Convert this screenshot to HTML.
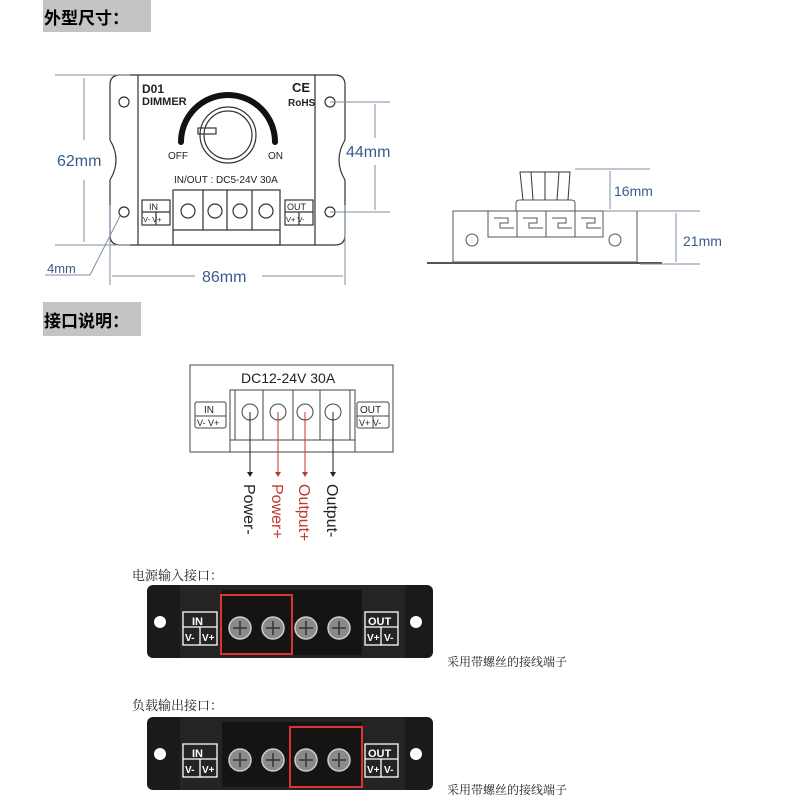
<!DOCTYPE html>
<html><head><meta charset="utf-8"><style>
body{margin:0;background:#fff}
svg{display:block}
</style></head><body>
<svg width="800" height="800" viewBox="0 0 800 800" xmlns="http://www.w3.org/2000/svg" font-family="Liberation Sans, sans-serif">
<rect width="800" height="800" fill="#fff"/>
<!-- headers -->
<rect x="43" y="0" width="108" height="32" fill="#c4c4c4"/>
<text x="44" y="24" font-size="17" font-weight="bold" font-family="Noto Sans CJK SC, sans-serif">外型尺寸：</text>
<rect x="43" y="302" width="98" height="34" fill="#c4c4c4"/>
<text x="44" y="327" font-size="17" font-weight="bold" font-family="Noto Sans CJK SC, sans-serif">接口说明：</text>

<!-- front device -->
<g stroke="#333" fill="none" stroke-width="1.2">
<path d="M120,75 H335 Q345,75 345,85 V140 Q333,160 345,180 V235 Q345,245 335,245 H120 Q110,245 110,235 V180 Q122,160 110,140 V85 Q110,75 120,75 Z"/>
<line x1="138" y1="75" x2="138" y2="245"/>
<line x1="315" y1="75" x2="315" y2="245"/>
<circle cx="124" cy="102" r="5"/><circle cx="124" cy="212" r="5"/>
<circle cx="330" cy="102" r="5"/><circle cx="330" cy="212" r="5"/>
<rect x="173" y="190" width="107" height="55"/>
<line x1="173" y1="230" x2="280" y2="230"/>
<line x1="203" y1="190" x2="203" y2="230"/><line x1="227" y1="190" x2="227" y2="230"/><line x1="252" y1="190" x2="252" y2="230"/>
<circle cx="188" cy="211" r="7"/><circle cx="215" cy="211" r="7"/><circle cx="240" cy="211" r="7"/><circle cx="266" cy="211" r="7"/>
<rect x="142" y="200" width="28" height="25"/><line x1="142" y1="212" x2="170" y2="212"/><line x1="156" y1="212" x2="156" y2="225"/>
<rect x="285" y="200" width="28" height="25"/><line x1="285" y1="212" x2="313" y2="212"/><line x1="299" y1="212" x2="299" y2="225"/>
<circle cx="228" cy="135" r="28"/><circle cx="228" cy="135" r="24"/>
<rect x="198" y="128" width="18" height="6"/>
</g>
<path d="M181,142 A47,47 0 1 1 275,142" stroke="#111" stroke-width="6" fill="none" stroke-linecap="round"/>
<g font-weight="bold" fill="#222">
<text x="142" y="93" font-size="12">D01</text>
<text x="142" y="105" font-size="11">DIMMER</text>
<text x="292" y="92" font-size="13">CE</text>
<text x="288" y="106" font-size="10">RoHS</text>
</g>
<g fill="#222" font-size="10">
<text x="168" y="159">OFF</text><text x="268" y="159">ON</text>
<text x="174" y="183">IN/OUT : DC5-24V 30A</text>
<text x="149" y="210" font-size="9">IN</text><text x="143" y="222" font-size="7.5">V- V+</text>
<text x="287" y="210" font-size="9">OUT</text><text x="286" y="222" font-size="7.5">V+ V-</text>
</g>
<!-- dims front -->
<g stroke="#7d8ca6" stroke-width="1" fill="none">
<line x1="55" y1="75" x2="130" y2="75"/><line x1="55" y1="245" x2="130" y2="245"/>
<line x1="84" y1="78" x2="84" y2="140"/><line x1="84" y1="180" x2="84" y2="242"/>
<line x1="110" y1="205" x2="110" y2="285"/><line x1="345" y1="205" x2="345" y2="285"/>
<line x1="112" y1="276" x2="195" y2="276"/><line x1="262" y1="276" x2="343" y2="276"/>
<line x1="330" y1="102" x2="390" y2="102"/><line x1="330" y1="212" x2="390" y2="212"/>
<line x1="375" y1="104" x2="375" y2="138"/><line x1="375" y1="165" x2="375" y2="210"/>
<line x1="120" y1="216" x2="90" y2="275"/><line x1="45" y1="275" x2="90" y2="275"/>
</g>
<g fill="#3b5a8c" font-size="16">
<text x="57" y="166">62mm</text>
<text x="346" y="157">44mm</text>
<text x="202" y="282">86mm</text>
<text x="47" y="273" font-size="13">4mm</text>
</g>
<!-- side view -->
<g stroke="#555" fill="none" stroke-width="1">
<rect x="453" y="211" width="184" height="51"/>
<line x1="427" y1="263" x2="662" y2="263" stroke-width="2"/>
<rect x="488" y="211" width="115" height="26"/>
<line x1="517" y1="211" x2="517" y2="237"/><line x1="546" y1="211" x2="546" y2="237"/><line x1="575" y1="211" x2="575" y2="237"/>
<path d="M494,218 h14 v5 h-8 v5 h14 M523,218 h14 v5 h-8 v5 h14 M552,218 h14 v5 h-8 v5 h14 M581,218 h14 v5 h-8 v5 h14"/>
<path d="M516,211 V203 Q516,200 520,200 H571 Q575,200 575,203 V211"/>
<path d="M523,200 L520,172 H570 L568,200 M533,200 L531,172 M545,200 L545,172 M557,200 L559,172" stroke="#333"/>
<circle cx="472" cy="240" r="6"/><circle cx="615" cy="240" r="6"/>
</g>
<g stroke="#7d8ca6" stroke-width="1">
<line x1="575" y1="169" x2="650" y2="169"/><line x1="603" y1="211" x2="700" y2="211"/><line x1="640" y1="264" x2="700" y2="264"/>
<line x1="610" y1="171" x2="610" y2="209"/><line x1="676" y1="213" x2="676" y2="262"/>
</g>
<g fill="#3b5a8c" font-size="14"><text x="614" y="196">16mm</text><text x="683" y="246">21mm</text></g>

<!-- middle diagram -->
<g stroke="#444" fill="none" stroke-width="1">
<rect x="190" y="365" width="203" height="87"/>
<rect x="230" y="390" width="125" height="62"/>
<line x1="230" y1="440" x2="355" y2="440"/>
<line x1="235" y1="390" x2="235" y2="440"/><line x1="263" y1="390" x2="263" y2="440"/><line x1="293" y1="390" x2="293" y2="440"/><line x1="320" y1="390" x2="320" y2="440"/><line x1="350" y1="390" x2="350" y2="440"/>
<circle cx="250" cy="412" r="8"/><circle cx="278" cy="412" r="8"/><circle cx="305" cy="412" r="8"/><circle cx="333" cy="412" r="8"/>
<rect x="195" y="402" width="31" height="26" rx="2"/><line x1="195" y1="416" x2="226" y2="416"/>
<rect x="357" y="402" width="32" height="26" rx="2"/><line x1="357" y1="416" x2="389" y2="416"/><line x1="373" y1="416" x2="373" y2="428"/>
</g>
<text x="241" y="383" font-size="14" fill="#222">DC12-24V  30A</text>
<g font-size="10" fill="#222"><text x="204" y="413">IN</text><text x="197" y="426" font-size="9">V-  V+</text><text x="360" y="413">OUT</text><text x="359" y="426" font-size="9">V+ V-</text></g>
<g stroke-width="1">
<line x1="250" y1="412" x2="250" y2="474" stroke="#222"/><line x1="278" y1="412" x2="278" y2="474" stroke="#c0392b"/>
<line x1="305" y1="412" x2="305" y2="474" stroke="#c0392b"/><line x1="333" y1="412" x2="333" y2="474" stroke="#222"/>
</g>
<path d="M247,472 h6 l-3,5 z" fill="#222"/><path d="M275,472 h6 l-3,5 z" fill="#c0392b"/><path d="M302,472 h6 l-3,5 z" fill="#c0392b"/><path d="M330,472 h6 l-3,5 z" fill="#222"/>
<g font-size="16">
<text transform="translate(244,484) rotate(90)" fill="#222">Power-</text>
<text transform="translate(272,484) rotate(90)" fill="#c0392b">Power+</text>
<text transform="translate(299,484) rotate(90)" fill="#c0392b">Output+</text>
<text transform="translate(327,484) rotate(90)" fill="#222">Output-</text>
</g>

<!-- photos -->
<g font-family="Liberation Serif, Noto Serif CJK SC, serif" font-size="13" fill="#222">
<text x="132" y="580">电源输入接口：</text>
<text x="132" y="710">负载输出接口：</text>
<text x="447" y="666" font-size="12">采用带螺丝的接线端子</text>
<text x="447" y="794" font-size="12">采用带螺丝的接线端子</text>
</g>
<g id="ph">
<rect x="147" y="585" width="286" height="73" rx="6" fill="#1a1a1a"/>
<rect x="180" y="585" width="225" height="73" fill="#242424"/>
<rect x="222" y="590" width="140" height="65" fill="#141414"/>
<circle cx="160" cy="622" r="6" fill="#fff"/><circle cx="416" cy="622" r="6" fill="#fff"/>
<g stroke="#fff" fill="none" stroke-width="1.3">
<rect x="183" y="612" width="34" height="33"/><line x1="183" y1="627" x2="217" y2="627"/><line x1="200" y1="627" x2="200" y2="645"/>
<rect x="365" y="612" width="33" height="33"/><line x1="365" y1="627" x2="398" y2="627"/><line x1="381" y1="627" x2="381" y2="645"/>
</g>
<g fill="#fff" font-size="11" font-weight="bold"><text x="192" y="625">IN</text><text x="185" y="641" font-size="10">V-</text><text x="202" y="641" font-size="10">V+</text><text x="368" y="625">OUT</text><text x="367" y="641" font-size="10">V+</text><text x="384" y="641" font-size="10">V-</text></g>
<g fill="#8a8a8a" stroke="#ccc" stroke-width="1.5">
<circle cx="240" cy="628" r="11"/><circle cx="273" cy="628" r="11"/><circle cx="306" cy="628" r="11"/><circle cx="339" cy="628" r="11"/>
</g>
<g stroke="#333" stroke-width="1.5">
<line x1="233" y1="628" x2="247" y2="628"/><line x1="240" y1="621" x2="240" y2="635"/>
<line x1="266" y1="628" x2="280" y2="628"/><line x1="273" y1="621" x2="273" y2="635"/>
<line x1="299" y1="628" x2="313" y2="628"/><line x1="306" y1="621" x2="306" y2="635"/>
<line x1="332" y1="628" x2="346" y2="628"/><line x1="339" y1="621" x2="339" y2="635"/>
</g>
</g>
<use href="#ph" y="132"/>
<rect x="221" y="595" width="71" height="59" fill="none" stroke="#d33" stroke-width="2"/>
<rect x="290" y="727" width="72" height="60" fill="none" stroke="#d33" stroke-width="2"/>
</svg>
</body></html>
